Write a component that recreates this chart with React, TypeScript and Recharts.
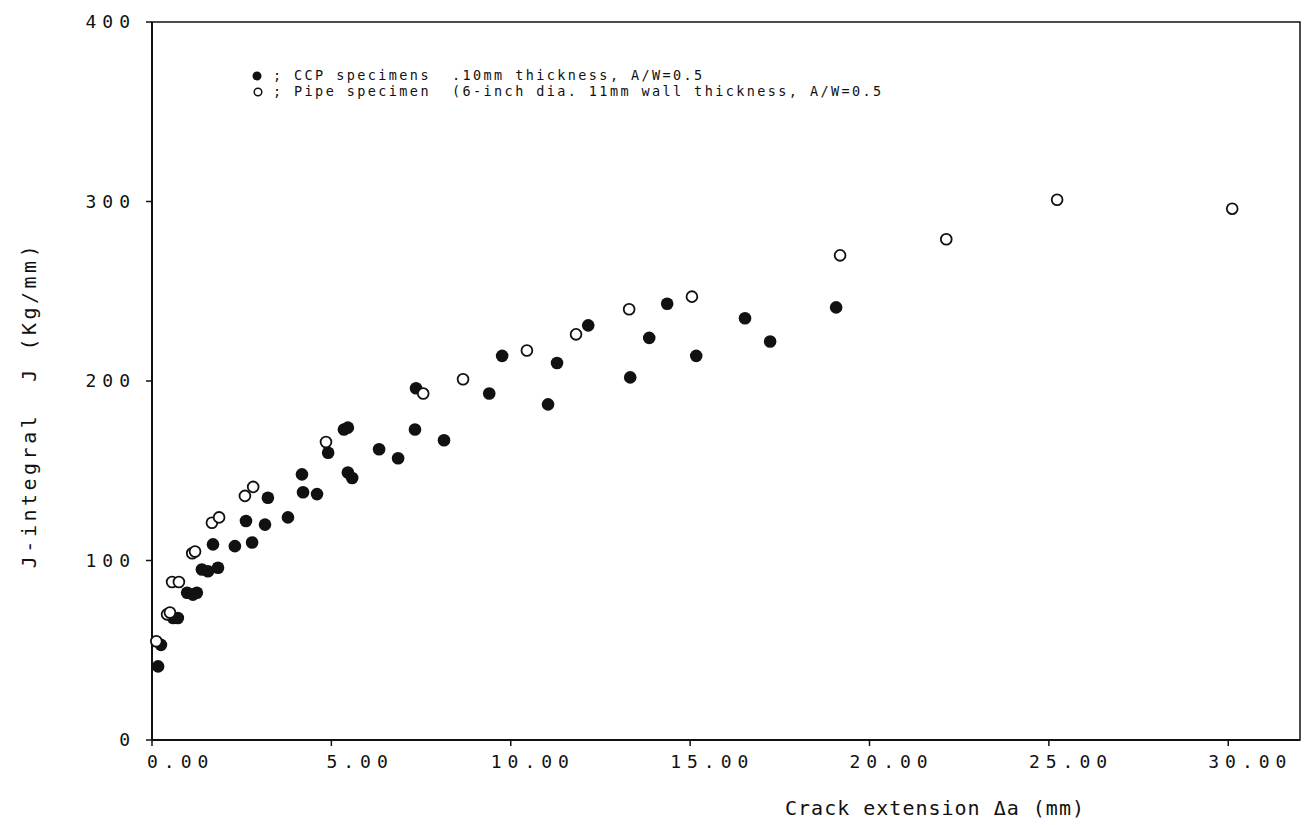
import { ScatterChart, Scatter, XAxis, YAxis, ReferenceArea } from 'recharts';

// CCP specimens (filled), crack extension (mm) and J (Kg/mm)
const ccpX = [0.17, 0.25, 0.59, 0.72, 0.98, 1.14, 1.25, 1.39, 1.56, 1.84, 1.7, 2.31, 2.79, 2.62, 3.15, 3.79, 3.23, 4.21, 4.6, 4.18, 5.46, 5.58, 4.91, 6.33, 6.86, 5.35, 5.46, 7.33, 8.14, 7.36, 9.4, 9.76, 11.29, 11.04, 12.16, 13.33, 13.86, 14.36, 15.17, 16.53, 17.23, 19.07];
const ccpJ = [41, 53, 68, 68, 82, 81, 82, 95, 94, 96, 109, 108, 110, 122, 120, 124, 135, 138, 137, 148, 149, 146, 160, 162, 157, 173, 174, 173, 167, 196, 193, 214, 210, 187, 231, 202, 224, 243, 214, 235, 222, 241];

// Pipe specimen (open)
const pipeX = [0.12, 0.42, 0.5, 0.56, 0.75, 1.12, 1.2, 1.67, 1.87, 2.59, 2.82, 4.85, 7.56, 8.67, 10.45, 11.82, 13.3, 15.05, 19.18, 22.14, 25.23, 30.11];
const pipeJ = [55, 70, 71, 88, 88, 104, 105, 121, 124, 136, 141, 166, 193, 201, 217, 226, 240, 247, 270, 279, 301, 296];

const xTicks = [0, 5, 10, 15, 20, 25, 30];
const yTicks = [0, 100, 200, 300, 400];

const legendLines = [
  '; CCP specimens  .10mm thickness, A/W=0.5',
  '; Pipe specimen  (6-inch dia. 11mm wall thickness, A/W=0.5',
];

const ccpData = ccpX.map((x, i) => ({ x, j: ccpJ[i] }));
const pipeData = pipeX.map((x, i) => ({ x, j: pipeJ[i] }));

const INK = '#111';
const MONO = '"DejaVu Sans Mono", "Liberation Mono", monospace';

const XTick = ({ x, y, payload }: any) => {
  const label = Number(payload.value).toFixed(2);
  return (
    <text x={x - (label.length > 4 ? 20 : 5)} y={y + 20} textAnchor="start" fontFamily={MONO} fontSize={18} letterSpacing={6} fill={INK}>
      {label}
    </text>
  );
};

const YTick = ({ x, y, payload }: any) => (
  <text x={x - 8} y={y + 6} textAnchor="end" fontFamily={MONO} fontSize={18} letterSpacing={6} fill={INK}>
    {payload.value}
  </text>
);

const Dot = (props: any) => <circle cx={props.cx} cy={props.cy} r={6.3} fill={INK} />;
const Ring = (props: any) => <circle cx={props.cx} cy={props.cy} r={5.4} fill="#fff" stroke={INK} strokeWidth={1.8} />;

function App() {
  return (
    <div style={{ position: 'absolute', left: 0, top: 0, width: 1305, height: 825, background: '#fff' }}>
      <ScatterChart width={1305} height={825} margin={{ top: 22, right: 5, left: 0, bottom: 0 }}>
        <ReferenceArea x1={0} x2={32} y1={0} y2={400} fill="none" stroke={INK} strokeWidth={1.5} />
        <XAxis
          dataKey="x"
          type="number"
          domain={[0, 32]}
          ticks={xTicks}
          height={85}
          tick={<XTick />}
          tickSize={6}
          axisLine={{ stroke: INK, strokeWidth: 2 }}
          tickLine={{ stroke: INK, strokeWidth: 1.5 }}
        />
        <YAxis
          dataKey="j"
          type="number"
          domain={[0, 400]}
          ticks={yTicks}
          width={152}
          tick={<YTick />}
          tickSize={6}
          axisLine={{ stroke: INK, strokeWidth: 2 }}
          tickLine={{ stroke: INK, strokeWidth: 1.5 }}
        />
        <Scatter data={ccpData} shape={<Dot />} isAnimationActive={false} />
        <Scatter data={pipeData} shape={<Ring />} isAnimationActive={false} />
      </ScatterChart>

      <svg width={1305} height={825} style={{ position: 'absolute', left: 0, top: 0, pointerEvents: 'none' }}>
        {/* legend */}
        <circle cx={257} cy={76} r={4.5} fill={INK} />
        <circle cx={258} cy={92} r={3.8} fill="none" stroke={INK} strokeWidth={1.5} />
        {legendLines.map((line, i) => (
          <text key={i} x={273} y={80 + i * 16} fontFamily={MONO} fontSize={13.5} letterSpacing={2.4} fill={INK} style={{ whiteSpace: 'pre' }}>
            {line}
          </text>
        ))}
        {/* axis titles */}
        <text x={935} y={815} textAnchor="middle" fontFamily={MONO} fontSize={20} letterSpacing={1} fill={INK}>
          Crack extension Δa (mm)
        </text>
        <text
          transform="translate(36, 405) rotate(-90)"
          textAnchor="middle"
          fontFamily={MONO}
          fontSize={20}
          letterSpacing={3.5}
          fill={INK}
          style={{ whiteSpace: 'pre' }}
        >
          J-integral  J (Kg/mm)
        </text>
      </svg>
    </div>
  );
}

export default App;
